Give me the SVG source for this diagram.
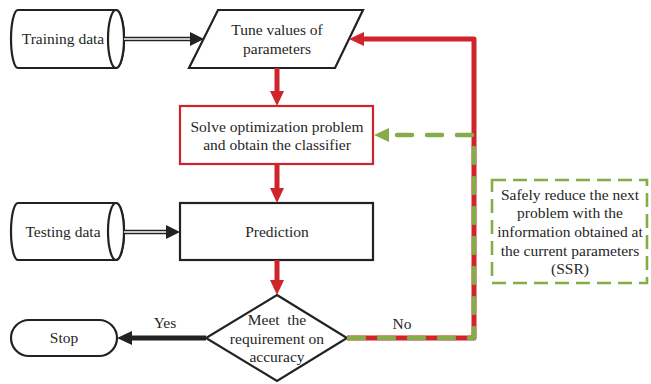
<svg xmlns="http://www.w3.org/2000/svg" width="651" height="384" viewBox="0 0 651 384">
<style>
text{font-family:"Liberation Serif","Times New Roman",serif;font-size:15.5px;fill:#262626;text-anchor:middle}
.blk{fill:#fff;stroke:#222;stroke-width:2.2}
.red{fill:#fff;stroke:#d0232a;stroke-width:2.2}
.dbl1{stroke:#222;stroke-width:4.5;fill:none}
.dbl2{stroke:#fff;stroke-width:1.4;fill:none}
.rl{stroke:#d0232a;stroke-width:5;fill:none;stroke-linejoin:round}
.gl{stroke:#84ad4a;stroke-width:4.5;fill:none;stroke-dasharray:15 15;stroke-linecap:round;stroke-linejoin:round}
.ssr{fill:#fff;stroke:#84ad4a;stroke-width:2.6;stroke-dasharray:14 7}
</style>
<g id="training">
<path class="blk" d="M18,10 L116,10 A8 29 0 0 1 116,68 L18,68 A7 29 0 0 1 18,10 Z"/>
<ellipse class="blk" cx="116" cy="39" rx="8" ry="29"/>
<text x="63" y="44">Training data</text>
</g>
<g id="testing">
<path class="blk" d="M18,203 L116,203 A8 28.5 0 0 1 116,260 L18,260 A7 28.5 0 0 1 18,203 Z"/>
<ellipse class="blk" cx="116" cy="231.5" rx="8" ry="28.5"/>
<text x="63" y="237">Testing data</text>
</g>
<g id="tune">
<polygon class="blk" points="218,10 363,10 335,68 189,68"/>
<text x="277" y="35">Tune values of</text>
<text x="277" y="54">parameters</text>
</g>
<g id="solve">
<rect class="red" x="180" y="106" width="193" height="58"/>
<text x="277" y="132">Solve optimization problem</text>
<text x="277" y="150">and obtain the classifier</text>
</g>
<g id="prediction">
<rect class="blk" x="180" y="203" width="193" height="57"/>
<text x="277" y="237">Prediction</text>
</g>
<g id="decision">
<polygon class="blk" points="277,295 347,338 277,381 206,338"/>
<text x="277" y="325" xml:space="preserve">Meet  the</text>
<text x="277" y="344">requirement on</text>
<text x="277" y="362">accuracy</text>
</g>
<g id="stop">
<rect class="blk" x="11" y="320" width="106" height="36" rx="18"/>
<text x="64" y="343">Stop</text>
</g>
<g id="ssr">
<rect class="ssr" x="492" y="180" width="155" height="103"/>
<text x="570" y="200">Safely reduce the next</text>
<text x="570" y="218">problem with the</text>
<text x="570" y="237">information obtained at</text>
<text x="570" y="256">the current parameters</text>
<text x="570" y="274">(SSR)</text>
</g>
<g id="connectors">
<line class="dbl1" x1="124" y1="39" x2="192" y2="39"/>
<line class="dbl2" x1="124" y1="39" x2="192" y2="39"/>
<polygon fill="#222" points="190,32 204,39 190,46"/>
<line class="dbl1" x1="124" y1="232" x2="168" y2="232"/>
<line class="dbl2" x1="124" y1="232" x2="168" y2="232"/>
<polygon fill="#222" points="166,225 180,232 166,239"/>
<line class="rl" x1="277" y1="68" x2="277" y2="93"/>
<polygon fill="#d0232a" points="270,91 277,106 284,91"/>
<line class="rl" x1="277" y1="164" x2="277" y2="190"/>
<polygon fill="#d0232a" points="270,188 277,203 284,188"/>
<line class="rl" x1="277" y1="260" x2="277" y2="282"/>
<polygon fill="#d0232a" points="270,280 277,295 284,280"/>
<line stroke="#222" stroke-width="5" x1="206" y1="338" x2="129" y2="338"/>
<polygon fill="#222" points="132,331 117,338 132,345"/>
<text x="165" y="328">Yes</text>
<path class="rl" d="M347,338 H474 V39 H362"/>
<polygon fill="#d0232a" points="364,32 349,39 364,46"/>
<path class="gl" d="M349,338 H474 V135 H390"/>
<polygon fill="#84ad4a" points="389,128 374,135 389,142"/>
<text x="402" y="329">No</text>
</g>
</svg>
